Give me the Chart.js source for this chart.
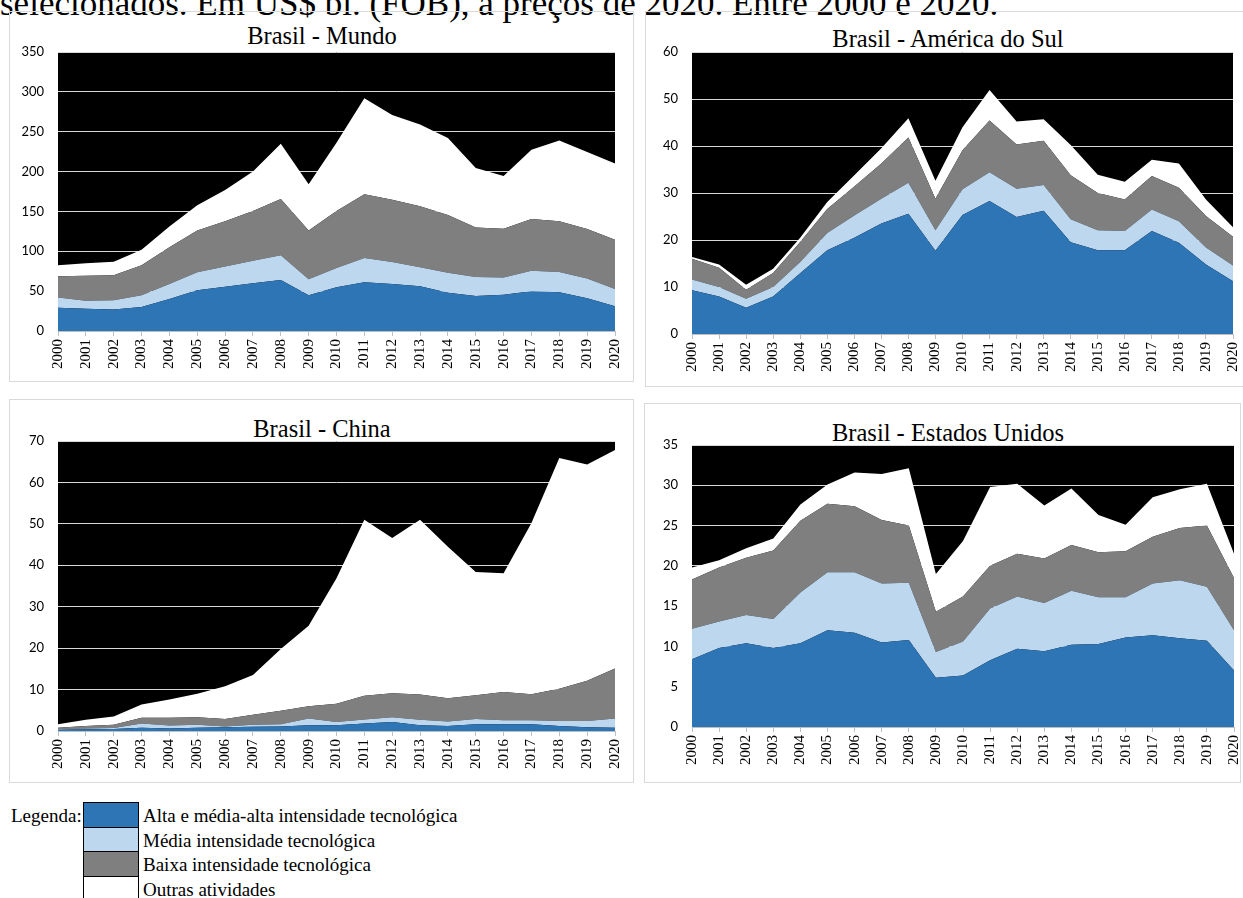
<!DOCTYPE html>
<html>
<head>
<meta charset="utf-8">
<script src="https://cdn.jsdelivr.net/npm/chart.js@4.4.1/dist/chart.umd.min.js"></script>
<style>
  html, body { margin: 0; padding: 0; background: #fff; }
  body { width: 1243px; height: 898px; position: relative; overflow: hidden; }
  .caption { position: absolute; left: 0; top: -16px; font: 35px "Liberation Serif", "Times New Roman", serif; white-space: nowrap; color: #000; }
  .panel { position: absolute; border: 1px solid #d9d9d9; box-sizing: border-box; }
  .title { position: absolute; width: 400px; text-align: center; line-height: 28px; height: 28px;
           font: 24.5px "Liberation Serif", "Times New Roman", serif; color: #000; white-space: nowrap; }
  canvas { position: absolute; }
  .legend { position: absolute; left: 0; top: 802px; font: 19px "Liberation Serif", "Times New Roman", serif; color: #000; }
  .legend .lab { position: absolute; left: 11px; top: 3px; }
  .legend .row { position: absolute; left: 83px; height: 25px; width: 400px; }
  .legend .sw { position: absolute; left: 0; top: 0; width: 54px; height: 24px; border: 1px solid #000; }
  .legend .txt { position: absolute; left: 60px; top: 3px; white-space: nowrap; }
</style>
</head>
<body>
<div class="caption">selecionados. Em US$ bi. (FOB), a preços de 2020. Entre 2000 e 2020.</div>

<div class="panel" style="left:9px;top:11px;width:625px;height:371px"></div>
<div class="panel" style="left:645px;top:11px;width:610px;height:376px"></div>
<div class="panel" style="left:9px;top:399px;width:625px;height:384px"></div>
<div class="panel" style="left:644px;top:403px;width:597px;height:380px"></div>

<div class="title" style="left:122px;top:22px">Brasil - Mundo</div>
<div class="title" style="left:748px;top:25px">Brasil - América do Sul</div>
<div class="title" style="left:122px;top:415px">Brasil - China</div>
<div class="title" style="left:748px;top:419px">Brasil - Estados Unidos</div>

<canvas id="chartMundo" width="624" height="370" style="left:9px;top:11px"></canvas>
<canvas id="chartSul" width="598" height="375" style="left:645px;top:11px"></canvas>
<canvas id="chartChina" width="624" height="383" style="left:9px;top:399px"></canvas>
<canvas id="chartEua" width="597" height="379" style="left:644px;top:403px"></canvas>

<div class="legend" id="legend">
  <div class="lab">Legenda:</div>
</div>

<script>
const years = ['2000','2001','2002','2003','2004','2005','2006','2007','2008','2009','2010',
  '2011','2012','2013','2014','2015','2016','2017','2018','2019','2020'];

const seriesNames = ['Alta e média-alta intensidade tecnológica', 'Média intensidade tecnológica',
  'Baixa intensidade tecnológica', 'Outras atividades'];
const seriesColors = ['#2e75b6', '#bdd7ee', '#7f7f7f', '#ffffff'];

// Brasil - Mundo (US$ bi)
const mundoAlta   = [29.3, 28, 27, 30, 40, 51, 55.6, 60, 64, 45, 55, 61, 59, 56, 48, 44, 45.5, 50, 48.5, 41, 31];
const mundoMedia  = [12.7, 10, 11.5, 15, 19, 22.6, 25.4, 28, 31, 20, 24, 30.6, 27.6, 24, 25, 23.8, 21.5, 25.7, 25.5, 25, 21.7];
const mundoBaixa  = [26.6, 31.4, 31.5, 37.4, 46, 52.4, 56.6, 62.6, 70.6, 61, 71.6, 79.9, 78.2, 76.4, 72.5, 61.9, 61.4, 64.8, 63.6, 62, 61.9];
const mundoOutras = [13.8, 15.6, 17, 19.6, 26, 31.7, 39.4, 49.4, 69.4, 58, 85.4, 120.5, 106.2, 102.6, 96.5, 74.8, 66.1, 87, 101.4, 96.6, 95.4];
const mundoTicks  = [0, 50, 100, 150, 200, 250, 300, 350];

// Brasil - América do Sul
const sulAlta   = [9.3, 8.0, 5.6, 8.0, 12.9, 17.8, 20.5, 23.5, 25.6, 17.7, 25.3, 28.3, 24.9, 26.2, 19.5, 17.8, 17.8, 21.9, 19.4, 14.8, 11.2];
const sulMedia  = [2.3, 2.0, 1.9, 2.0, 2.4, 3.7, 4.7, 5.3, 6.6, 4.4, 5.5, 6.1, 6.0, 5.5, 4.9, 4.3, 4.1, 4.6, 4.6, 3.6, 3.4];
const sulBaixa  = [4.4, 4.1, 1.9, 3.0, 4.3, 5.1, 6.2, 7.5, 9.6, 6.7, 8.3, 11.0, 9.4, 9.4, 9.4, 7.9, 6.7, 7.1, 7.1, 6.7, 6.1];
const sulOutras = [0.4, 0.7, 1.1, 0.9, 0.9, 1.5, 2.4, 3.2, 4.1, 3.8, 4.9, 6.5, 4.9, 4.6, 6.4, 3.9, 3.8, 3.5, 5.2, 3.5, 2.0];
const sulTicks  = [0, 10, 20, 30, 40, 50, 60];

// Brasil - China
const chinaAlta   = [0.3, 0.4, 0.5, 0.8, 0.6, 0.8, 0.9, 1.0, 1.1, 1.4, 1.4, 1.8, 2.2, 1.4, 1.2, 1.6, 1.6, 1.6, 1.2, 0.9, 0.8];
const chinaMedia  = [0.2, 0.2, 0.2, 1.0, 0.7, 0.7, 0.2, 0.5, 0.5, 1.6, 0.8, 1.0, 1.1, 1.3, 1.1, 1.3, 1.0, 1.0, 1.2, 1.5, 2.2];
const chinaBaixa  = [0.3, 0.6, 0.8, 1.4, 1.9, 1.8, 1.8, 2.4, 3.3, 3.0, 4.4, 5.7, 5.8, 6.1, 5.6, 5.7, 6.8, 6.3, 7.8, 9.7, 12.1];
const chinaOutras = [0.8, 1.5, 2.0, 3.2, 4.4, 5.7, 7.9, 9.6, 14.9, 19.4, 30.3, 42.5, 37.5, 42.2, 36.6, 29.8, 28.7, 41.3, 55.7, 52.2, 52.7];
const chinaTicks  = [0, 10, 20, 30, 40, 50, 60, 70];

// Brasil - Estados Unidos
const euaAlta   = [8.4, 9.8, 10.4, 9.8, 10.4, 12.0, 11.7, 10.5, 10.8, 6.1, 6.4, 8.3, 9.7, 9.4, 10.2, 10.3, 11.1, 11.4, 11.0, 10.7, 7.0];
const euaMedia  = [3.8, 3.3, 3.5, 3.6, 6.3, 7.2, 7.5, 7.3, 7.1, 3.2, 4.2, 6.4, 6.5, 6.0, 6.7, 5.8, 5.0, 6.4, 7.2, 6.7, 5.0];
const euaBaixa  = [6.1, 6.7, 7.1, 8.5, 8.9, 8.5, 8.2, 7.9, 7.1, 5.0, 5.6, 5.3, 5.3, 5.5, 5.7, 5.6, 5.7, 5.8, 6.5, 7.6, 6.5];
const euaOutras = [1.5, 0.9, 1.2, 1.5, 2.0, 2.4, 4.2, 5.7, 7.1, 4.7, 6.9, 9.8, 8.7, 6.6, 7.0, 4.6, 3.3, 4.9, 4.8, 5.2, 3.0];
const euaTicks  = [0, 5, 10, 15, 20, 25, 30, 35];

// black plot background, drawn under grid and areas
const plotBackground = {
    id: 'plotBackground',
    beforeDraw(chart) {
        const a = chart.chartArea;
        chart.ctx.save();
        chart.ctx.fillStyle = '#000';
        chart.ctx.fillRect(a.left, a.top, a.right - a.left, a.bottom - a.top);
        chart.ctx.restore();
    }
};

function makeChart(id, series, ticks, box) {
    const datasets = series.map(function (values, i) {
        return {
            label: seriesNames[i],
            data: values,
            backgroundColor: seriesColors[i],
            borderWidth: 0,
            pointRadius: 0,
            tension: 0,
            fill: i === 0 ? 'origin' : '-1'
        };
    });
    new Chart(document.getElementById(id), {
        type: 'line',
        data: { labels: years, datasets: datasets },
        plugins: [plotBackground],
        options: {
            responsive: false,
            animation: false,
            layout: { padding: { left: 0, right: box.pr, top: box.pt, bottom: 0 } },
            plugins: {
                legend: { display: false },
                tooltip: { enabled: false },
                title: { display: false }
            },
            scales: {
                x: {
                    offset: false,
                    grid: { drawOnChartArea: false, color: '#bfbfbf', tickLength: 5 },
                    border: { color: '#bfbfbf' },
                    ticks: {
                        autoSkip: false, minRotation: 90, maxRotation: 90, padding: 3,
                        color: '#000',
                        font: { family: '"Liberation Serif", "Times New Roman", serif', size: 15 }
                    },
                    afterFit: function (s) {
                        s.height = box.xh;
                        s.paddingLeft = 0;
                        s.paddingRight = 0;
                    }
                },
                y: {
                    stacked: true,
                    min: ticks[0],
                    max: ticks[ticks.length - 1],
                    grid: { color: '#d9d9d9', drawTicks: false },
                    border: { display: false },
                    ticks: {
                        stepSize: ticks[1] - ticks[0],
                        padding: 14,
                        color: '#000',
                        font: { family: 'Lato, "Open Sans", sans-serif', size: 13 }
                    },
                    afterFit: function (s) { s.width = box.yw; }
                }
            }
        }
    });
}

makeChart('chartMundo', [mundoAlta, mundoMedia, mundoBaixa, mundoOutras], mundoTicks,
    { pr: 18, pt: 41, yw: 49, xh: 50 });
makeChart('chartSul', [sulAlta, sulMedia, sulBaixa, sulOutras], sulTicks,
    { pr: 10, pt: 41, yw: 47, xh: 52 });
makeChart('chartChina', [chinaAlta, chinaMedia, chinaBaixa, chinaOutras], chinaTicks,
    { pr: 18, pt: 42, yw: 49, xh: 51 });
makeChart('chartEua', [euaAlta, euaMedia, euaBaixa, euaOutras], euaTicks,
    { pr: 7, pt: 42, yw: 48, xh: 55 });

// legend below the charts
const legend = document.getElementById('legend');
seriesNames.forEach(function (name, i) {
    const row = document.createElement('div');
    row.className = 'row';
    row.style.top = (i * 24.5) + 'px';
    row.innerHTML = '<div class="sw" style="background:' + seriesColors[i] + '"></div><div class="txt">' + name + '</div>';
    legend.appendChild(row);
});
</script>
</body>
</html>
